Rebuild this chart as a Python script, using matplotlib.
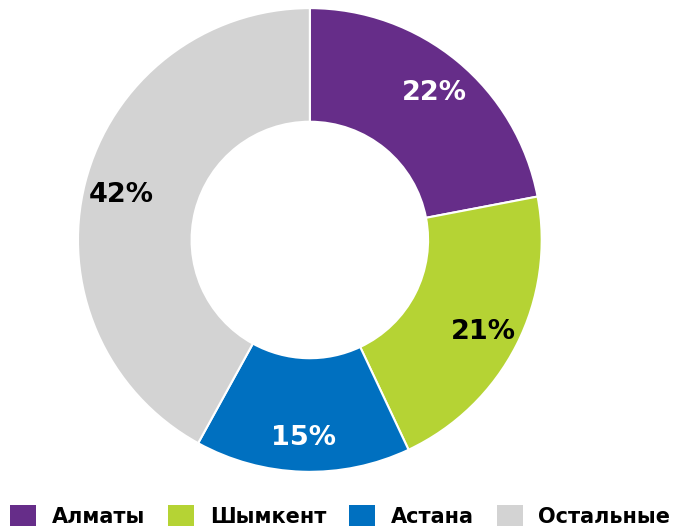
import matplotlib
matplotlib.use("Agg")
from matplotlib import pyplot as plt
from matplotlib.patches import Patch

# data
cities = ["Алматы", "Шымкент", "Астана", "Остальные"]
shares = [22, 21, 15, 42]
colors = ["#662D89", "#B5D334", "#0070C0", "#D3D3D3"]
label_colors = ["white", "black", "white", "black"]

plt.rcParams['font.family'] = ['DejaVu Sans']

fig = plt.figure(figsize=(6.74, 5.28), dpi=100)
ax = fig.add_axes([0.1157, 0.106, 0.688, 0.879])

wedges, texts, autotexts = ax.pie(
    shares,
    colors=colors,
    startangle=90,
    counterclock=False,
    radius=1.0,
    wedgeprops=dict(width=0.49, edgecolor="white", linewidth=1.5),
    autopct=lambda p: "%d%%" % round(p),
    pctdistance=0.84,
)
for t, c in zip(autotexts, label_colors):
    t.set_color(c)
    t.set_fontsize(19.5)
    t.set_fontweight("bold")
    x, y = t.get_position()
    t.set_position((x, y - 0.015))

ax.set_xlim(-1, 1)
ax.set_ylim(-1, 1)
ax.set_aspect("equal")

handles = [Patch(facecolor=c, edgecolor="none") for c in colors]
fig.legend(handles, cities, loc="lower center", bbox_to_anchor=(0.505, -0.025),
           ncol=4, frameon=False, handlelength=1.25, handleheight=1.2,
           handletextpad=0.75, columnspacing=1.1, borderaxespad=0.3,
           prop=dict(size=15, weight="bold"))

fig.savefig("out.png", dpi=100)
